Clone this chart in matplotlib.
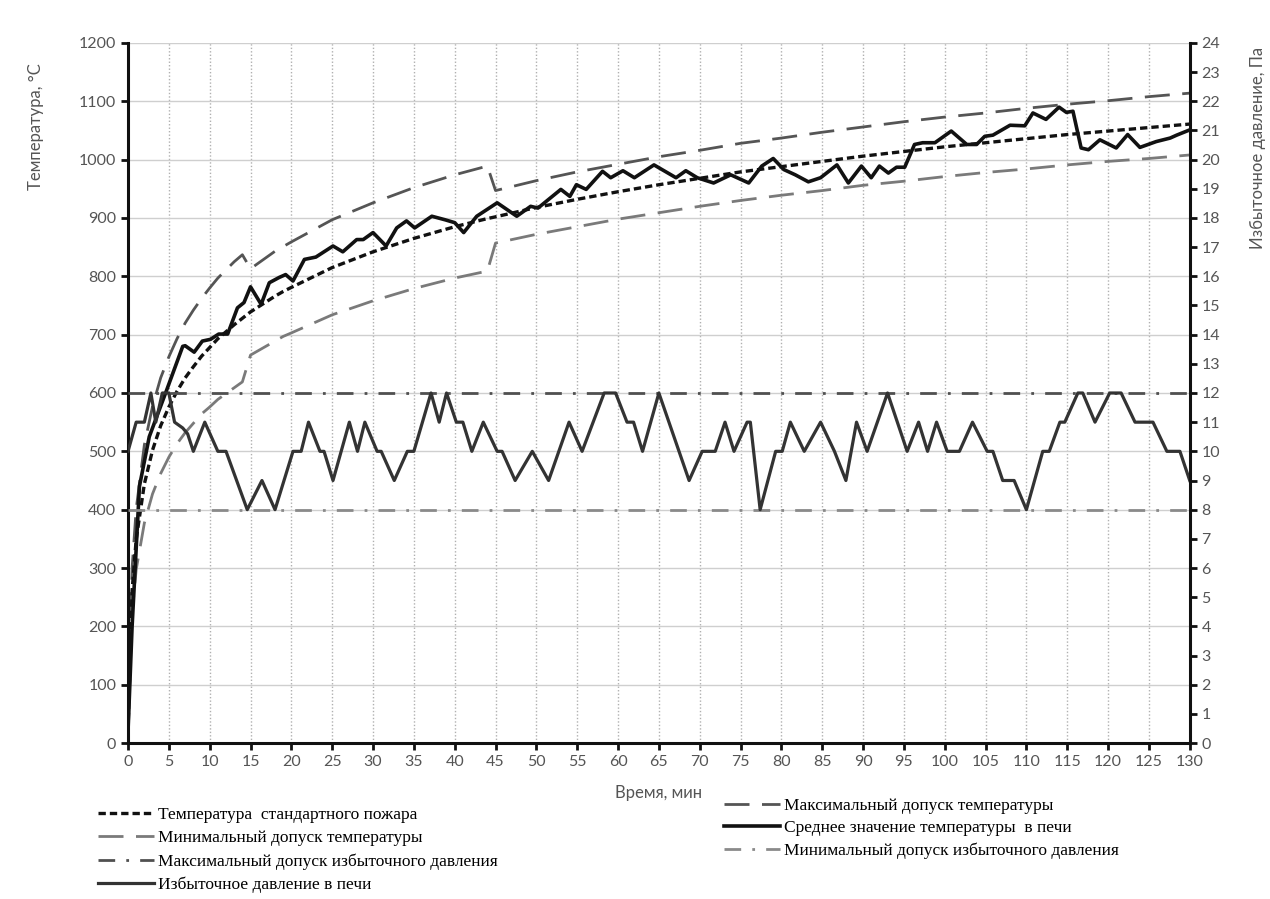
import numpy as np
import matplotlib
matplotlib.use('Agg')
import matplotlib.pyplot as plt

# время, мин (общая сетка для стандартной кривой и допусков)
t_std = [0, 0.5, 1, 2, 3, 4, 5, 6, 7, 8, 9, 10, 11, 12, 13, 14, 15, 16, 17, 18, 19, 20,
         25, 30, 35, 40, 44, 45, 50, 55, 60, 65, 70, 75, 80, 85, 90, 95, 100, 105, 110,
         115, 120, 125, 130]
# температура стандартного пожара, °C
T_std = [20, 261, 349, 444, 502, 544, 576, 603, 626, 645, 663, 678, 693, 705, 717, 728,
         739, 748, 757, 766, 774, 781, 815, 842, 865, 885, 899, 902, 918, 932, 945, 957,
         968, 979, 988, 997, 1006, 1014, 1022, 1029, 1036, 1043, 1049, 1055, 1061]
# максимальный допуск температуры
T_max = [23, 300, 401, 511, 577, 626, 662, 693, 720, 742, 762, 780, 797, 811, 825, 837,
         813, 823, 833, 843, 851, 859, 897, 926, 952, 974, 989, 947, 964, 979, 992, 1005,
         1016, 1028, 1037, 1047, 1056, 1065, 1073, 1080, 1088, 1095, 1101, 1108, 1114]
# минимальный допуск температуры
T_min = [17, 222, 297, 377, 427, 462, 490, 513, 532, 548, 564, 576, 589, 599, 609, 619,
         665, 673, 681, 689, 697, 703, 734, 758, 779, 797, 809, 857, 872, 885, 898, 909,
         920, 930, 939, 947, 956, 963, 971, 978, 984, 991, 997, 1002, 1008]

# среднее значение температуры в печи
t_avg = [0, 0.5, 1.4, 2.6, 4.6, 6.7, 7.0, 8.1, 9.1, 10.1, 11.1, 12.2, 13.4, 14.2, 15.0,
         16.3, 17.3, 18.5, 19.3, 20.2, 21.6, 23.0, 25.1, 26.3, 28.0, 28.8, 30.0, 31.6,
         32.9, 34.1, 35.1, 37.2, 38.8, 40.0, 41.1, 42.7, 45.2, 47.6, 49.3, 50.2, 53.0,
         54.1, 54.9, 56.1, 58.1, 59.1, 60.6, 62.0, 64.4, 67.1, 68.3, 69.7, 71.7, 73.8,
         76.0, 77.6, 79.0, 80.3, 81.7, 83.3, 84.8, 86.8, 88.2, 89.8, 91.0, 92.0, 93.1,
         94.1, 95.1, 96.3, 97.3, 98.8, 100.8, 102.7, 103.9, 104.9, 105.9, 108.0, 109.8,
         110.8, 112.4, 114.0, 114.9, 115.7, 116.7, 117.6, 119.0, 121.0, 122.4, 123.9,
         125.9, 127.6, 128.4, 130]
T_avg = [20, 200, 440, 525, 600, 680, 681, 670, 689, 692, 701, 701, 746, 755, 782,
         752, 789, 798, 803, 792, 829, 833, 852, 842, 863, 863, 875, 852,
         883, 895, 883, 903, 897, 892, 875, 903, 926, 903, 920, 917, 949,
         937, 957, 949, 980, 969, 981, 969, 991, 969, 981, 969, 960, 974,
         960, 989, 1002, 983, 974, 962, 969, 991, 960, 989, 969, 989, 977,
         987, 987, 1026, 1029, 1029, 1049, 1026, 1026, 1040, 1042, 1059, 1058,
         1080, 1069, 1090, 1081, 1083, 1020, 1017, 1034, 1020, 1043, 1021,
         1031, 1037, 1042, 1051]

# избыточное давление в печи, Па
t_p = [0, 1, 2, 2.8, 3.4, 4.2, 5.0, 5.7, 6.7, 7.3, 8.0, 9.4, 11, 12, 14.6, 16.4, 18,
       20.2, 21.2, 22.1, 23.5, 24, 25.1, 27.1, 28.1, 29, 30.5, 31, 32.6, 34.2, 35, 37.1,
       38.1, 39, 40.2, 41, 42.1, 43.5, 45.2, 45.8, 47.4, 49.5, 51.5, 54, 55.6, 58.3,
       59.7, 61.1, 61.9, 63, 65, 68.7, 70.3, 71.9, 73.1, 74.2, 75.8, 76.2, 77.4, 79.3,
       80.1, 81.1, 82.8, 84.8, 86.5, 87.9, 89.2, 90.5, 93, 95.4, 96.8, 97.9, 99, 100.3,
       101.8, 103.4, 105.2, 105.9, 107.1, 108.5, 110, 112, 112.8, 114.1, 114.7, 116.3,
       116.9, 118.4, 120.2, 121.6, 123.3, 125.5, 127.2, 128.8, 130]
P = [10, 11, 11, 12, 11, 12, 12, 11, 10.8, 10.6, 10, 11, 10, 10, 8, 9, 8,
     10, 10, 11, 10, 10, 9, 11, 10, 11, 10, 10, 9, 10, 10, 12,
     11, 12, 11, 11, 10, 11, 10, 10, 9, 10, 9, 11, 10, 12,
     12, 11, 11, 10, 12, 9, 10, 10, 11, 10, 11, 11, 8, 10,
     10, 11, 10, 11, 10, 9, 11, 10, 12, 10, 11, 10, 11, 10,
     10, 11, 10, 10, 9, 9, 8, 10, 10, 11, 11, 12,
     12, 11, 12, 12, 11, 11, 10, 10, 9]

P_max = 12
P_min = 8

fig = plt.figure(figsize=(12.7, 8.99), dpi=100)
ax = fig.add_axes([0.1008, 0.1735, 0.836, 0.7787])
ax2 = ax.twinx()

ax.plot(t_std, T_max, color='#555555', lw=2, ls=(0, (9, 4.5)), label='Максимальный допуск температуры')
ax.plot(t_std, T_min, color='#7a7a7a', lw=2, ls=(0, (9, 4.5)), label='Минимальный допуск температуры')
ax.plot(t_std, T_std, color='#111111', lw=2.4, ls=(0, (2.2, 1.2)), label='Температура  стандартного пожара')
ax.plot(t_avg, T_avg, color='#111111', lw=2.6, solid_joinstyle='round',
        label='Среднее значение температуры  в печи')

ax2.plot([0, 130], [P_max, P_max], color='#505050', lw=2, ls=(0, (6, 4, 1, 4)),
         label='Максимальный допуск избыточного давления')
ax2.plot([0, 130], [P_min, P_min], color='#8a8a8a', lw=2, ls=(0, (6, 4, 1, 4)),
         label='Минимальный допуск избыточного давления')
ax2.plot(t_p, P, color='#333333', lw=2.3, solid_joinstyle='round',
         label='Избыточное давление в печи')

ax.set_xlim(0, 130)
ax.set_ylim(0, 1200)
ax2.set_ylim(0, 24)
ax.set_xticks(np.arange(0, 131, 5))
ax.set_yticks(np.arange(0, 1201, 100))
ax2.set_yticks(np.arange(0, 25, 1))

ax.grid(axis='y', color='#cfcfcf', lw=1)
ax.grid(axis='x', color='#b0b0b0', lw=1, ls=(0, (1, 1.5)))
ax.set_axisbelow(True)

for a in (ax, ax2):
    a.spines['top'].set_visible(False)
    for s in ('left', 'right', 'bottom'):
        a.spines[s].set_linewidth(2.2)
        a.spines[s].set_color('#111111')
    a.tick_params(direction='out', length=5, width=2, colors='#111111',
                  labelcolor='#555555', labelsize=11.5)
ax.spines['right'].set_visible(False)
ax2.spines['left'].set_visible(False)
ax2.spines['bottom'].set_visible(False)

for lab in ax.get_xticklabels() + ax.get_yticklabels() + ax2.get_yticklabels():
    lab.set_family('Lato')

ax.set_xlabel('Время, мин', family='Lato', color='#555555', fontsize=12, labelpad=12)
ax.set_ylabel('Температура, °C', family='Lato', color='#555555', fontsize=12)
ax.yaxis.set_label_coords(-0.079, 0.88)
ax2.set_ylabel('Избыточное давление, Па', family='Lato', color='#555555', fontsize=12)
ax2.yaxis.set_label_coords(1.057, 0.85)

h1, l1 = ax.get_legend_handles_labels()
h2, l2 = ax2.get_legend_handles_labels()
hd = dict(zip(l1 + l2, h1 + h2))
left_labels = ['Температура  стандартного пожара', 'Минимальный допуск температуры',
               'Максимальный допуск избыточного давления', 'Избыточное давление в печи']
right_labels = ['Максимальный допуск температуры', 'Среднее значение температуры  в печи',
                'Минимальный допуск избыточного давления']
leg_font = {'family': 'Liberation Serif', 'size': 12.5}
fig.legend([hd[k] for k in left_labels], left_labels, loc='upper left',
           bbox_to_anchor=(0.072, 0.110), bbox_transform=fig.transFigure,
           frameon=False, prop=leg_font, handlelength=3.2, handletextpad=0.25,
           labelspacing=0.4, borderaxespad=0)
fig.legend([hd[k] for k in right_labels], right_labels, loc='upper left',
           bbox_to_anchor=(0.565, 0.120), bbox_transform=fig.transFigure,
           frameon=False, prop=leg_font, handlelength=3.2, handletextpad=0.25,
           labelspacing=0.35, borderaxespad=0)

fig.savefig('out.png', dpi=100)
